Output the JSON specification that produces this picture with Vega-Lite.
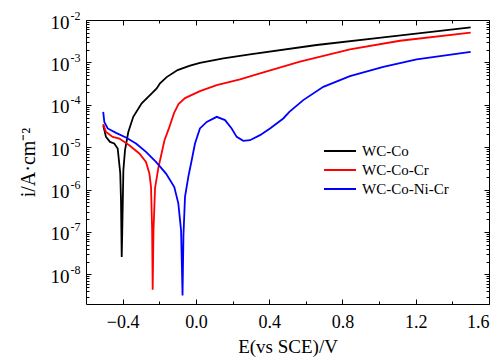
{
  "$schema": "https://vega.github.io/schema/vega-lite/v6.json",
  "width": 403,
  "height": 284,
  "autosize": {"type": "none"},
  "padding": {"left": 86, "top": 20, "right": 15, "bottom": 56},
  "background": "white",
  "config": {
    "view": {"stroke": "black", "strokeWidth": 1},
    "axis": {"grid": false, "domain": false, "labelFont": "Liberation Serif", "titleFont": "Liberation Serif", "labelColor": "black", "titleColor": "black", "tickColor": "black", "titleFontWeight": "normal", "tickWidth": 1},
    "legend": {"labelFont": "Liberation Serif", "labelColor": "black"}
  },
  "data": {"values": [
    {"s": "WC-Co", "E": -0.506, "i": 3.30e-5},
    {"s": "WC-Co", "E": -0.491, "i": 1.75e-5},
    {"s": "WC-Co", "E": -0.469, "i": 1.33e-5},
    {"s": "WC-Co", "E": -0.446, "i": 1.22e-5},
    {"s": "WC-Co", "E": -0.427, "i": 9.3e-6},
    {"s": "WC-Co", "E": -0.413, "i": 2.43e-6},
    {"s": "WC-Co", "E": -0.409, "i": 5.6e-7},
    {"s": "WC-Co", "E": -0.405, "i": 2.56e-8},
    {"s": "WC-Co", "E": -0.402, "i": 1.09e-7},
    {"s": "WC-Co", "E": -0.396, "i": 2.86e-6},
    {"s": "WC-Co", "E": -0.387, "i": 8.49e-6},
    {"s": "WC-Co", "E": -0.369, "i": 2.30e-5},
    {"s": "WC-Co", "E": -0.342, "i": 5.20e-5},
    {"s": "WC-Co", "E": -0.296, "i": 1.08e-4},
    {"s": "WC-Co", "E": -0.241, "i": 1.85e-4},
    {"s": "WC-Co", "E": -0.214, "i": 2.43e-4},
    {"s": "WC-Co", "E": -0.196, "i": 3.20e-4},
    {"s": "WC-Co", "E": -0.1595, "i": 4.50e-4},
    {"s": "WC-Co", "E": -0.1, "i": 6.6e-4},
    {"s": "WC-Co", "E": -0.032, "i": 8.4e-4},
    {"s": "WC-Co", "E": 0.022, "i": 9.8e-4},
    {"s": "WC-Co", "E": 0.150, "i": 1.24e-3},
    {"s": "WC-Co", "E": 0.295, "i": 1.55e-3},
    {"s": "WC-Co", "E": 0.659, "i": 2.57e-3},
    {"s": "WC-Co", "E": 1.023, "i": 3.90e-3},
    {"s": "WC-Co", "E": 1.5, "i": 6.73e-3},
    {"s": "WC-Co-Cr", "E": -0.506, "i": 3.49e-5},
    {"s": "WC-Co-Cr", "E": -0.491, "i": 2.30e-5},
    {"s": "WC-Co-Cr", "E": -0.454, "i": 1.75e-5},
    {"s": "WC-Co-Cr", "E": -0.418, "i": 1.60e-5},
    {"s": "WC-Co-Cr", "E": -0.364, "i": 1.11e-5},
    {"s": "WC-Co-Cr", "E": -0.309, "i": 7.10e-6},
    {"s": "WC-Co-Cr", "E": -0.2725, "i": 4.49e-6},
    {"s": "WC-Co-Cr", "E": -0.254, "i": 2.39e-6},
    {"s": "WC-Co-Cr", "E": -0.245, "i": 1.15e-6},
    {"s": "WC-Co-Cr", "E": -0.239, "i": 1.09e-7},
    {"s": "WC-Co-Cr", "E": -0.236, "i": 4.35e-9},
    {"s": "WC-Co-Cr", "E": -0.2315, "i": 1.09e-7},
    {"s": "WC-Co-Cr", "E": -0.223, "i": 1.1e-6},
    {"s": "WC-Co-Cr", "E": -0.204, "i": 3.42e-6},
    {"s": "WC-Co-Cr", "E": -0.1715, "i": 1.46e-5},
    {"s": "WC-Co-Cr", "E": -0.147, "i": 2.81e-5},
    {"s": "WC-Co-Cr", "E": -0.1196, "i": 6.35e-5},
    {"s": "WC-Co-Cr", "E": -0.095, "i": 1.04e-4},
    {"s": "WC-Co-Cr", "E": -0.0595, "i": 1.44e-4},
    {"s": "WC-Co-Cr", "E": 0.022, "i": 2.10e-4},
    {"s": "WC-Co-Cr", "E": 0.1135, "i": 2.91e-4},
    {"s": "WC-Co-Cr", "E": 0.241, "i": 3.97e-4},
    {"s": "WC-Co-Cr", "E": 0.350, "i": 5.51e-4},
    {"s": "WC-Co-Cr", "E": 0.568, "i": 1.04e-3},
    {"s": "WC-Co-Cr", "E": 0.841, "i": 2.03e-3},
    {"s": "WC-Co-Cr", "E": 1.114, "i": 3.24e-3},
    {"s": "WC-Co-Cr", "E": 1.5, "i": 5.01e-3},
    {"s": "WC-Co-Ni-Cr", "E": -0.506, "i": 6.82e-5},
    {"s": "WC-Co-Ni-Cr", "E": -0.500, "i": 3.95e-5},
    {"s": "WC-Co-Ni-Cr", "E": -0.4815, "i": 2.77e-5},
    {"s": "WC-Co-Ni-Cr", "E": -0.436, "i": 2.18e-5},
    {"s": "WC-Co-Ni-Cr", "E": -0.382, "i": 1.69e-5},
    {"s": "WC-Co-Ni-Cr", "E": -0.327, "i": 1.22e-5},
    {"s": "WC-Co-Ni-Cr", "E": -0.2725, "i": 7.74e-6},
    {"s": "WC-Co-Ni-Cr", "E": -0.218, "i": 4.49e-6},
    {"s": "WC-Co-Ni-Cr", "E": -0.163, "i": 2.39e-6},
    {"s": "WC-Co-Ni-Cr", "E": -0.118, "i": 1.15e-6},
    {"s": "WC-Co-Ni-Cr", "E": -0.096, "i": 4.75e-7},
    {"s": "WC-Co-Ni-Cr", "E": -0.081, "i": 1.09e-7},
    {"s": "WC-Co-Ni-Cr", "E": -0.073, "i": 3.18e-9},
    {"s": "WC-Co-Ni-Cr", "E": -0.068, "i": 8.34e-8},
    {"s": "WC-Co-Ni-Cr", "E": -0.0595, "i": 6.70e-7},
    {"s": "WC-Co-Ni-Cr", "E": -0.0415, "i": 1.99e-6},
    {"s": "WC-Co-Ni-Cr", "E": -0.023, "i": 4.93e-6},
    {"s": "WC-Co-Ni-Cr", "E": -0.005, "i": 1.22e-5},
    {"s": "WC-Co-Ni-Cr", "E": 0.022, "i": 2.77e-5},
    {"s": "WC-Co-Ni-Cr", "E": 0.059, "i": 3.95e-5},
    {"s": "WC-Co-Ni-Cr", "E": 0.1135, "i": 5.20e-5},
    {"s": "WC-Co-Ni-Cr", "E": 0.159, "i": 4.35e-5},
    {"s": "WC-Co-Ni-Cr", "E": 0.195, "i": 2.77e-5},
    {"s": "WC-Co-Ni-Cr", "E": 0.2227, "i": 1.75e-5},
    {"s": "WC-Co-Ni-Cr", "E": 0.2587, "i": 1.41e-5},
    {"s": "WC-Co-Ni-Cr", "E": 0.295, "i": 1.46e-5},
    {"s": "WC-Co-Ni-Cr", "E": 0.350, "i": 1.92e-5},
    {"s": "WC-Co-Ni-Cr", "E": 0.4045, "i": 2.77e-5},
    {"s": "WC-Co-Ni-Cr", "E": 0.477, "i": 4.76e-5},
    {"s": "WC-Co-Ni-Cr", "E": 0.51, "i": 6.82e-5},
    {"s": "WC-Co-Ni-Cr", "E": 0.586, "i": 1.29e-4},
    {"s": "WC-Co-Ni-Cr", "E": 0.6955, "i": 2.65e-4},
    {"s": "WC-Co-Ni-Cr", "E": 0.841, "i": 4.75e-4},
    {"s": "WC-Co-Ni-Cr", "E": 1.023, "i": 7.88e-4},
    {"s": "WC-Co-Ni-Cr", "E": 1.205, "i": 1.18e-3},
    {"s": "WC-Co-Ni-Cr", "E": 1.5, "i": 1.78e-3}
  ]},
  "layer": [
    {
      "mark": {"type": "line", "strokeWidth": 1.8},
      "encoding": {
        "x": {"field": "E", "type": "quantitative", "scale": {"domain": [-0.6, 1.6], "nice": false, "zero": false},
          "axis": {"orient": "bottom", "values": [-0.4, 0, 0.4, 0.8, 1.2, 1.6], "format": ".1f", "tickSize": -5, "labelFontSize": 18, "labelPadding": 14, "title": "E(vs SCE)/V", "titleFontSize": 19, "titlePadding": 6}},
        "y": {"field": "i", "type": "quantitative", "scale": {"type": "log", "domain": [2e-9, 0.01], "nice": false},
          "axis": {"orient": "left", "values": [1e-8, 1e-7, 1e-6, 1e-5, 1e-4, 1e-3, 1e-2], "labelExpr": "'10'", "tickSize": -5, "labelFontSize": 19, "labelPadding": 22, "labelBaseline": "middle", "labelOffset": 2, "labelFlush": false, "title": "i/A·cm⁻²", "titleFontSize": 20, "titlePadding": 12}},
        "color": {"field": "s", "type": "nominal",
          "scale": {"domain": ["WC-Co", "WC-Co-Cr", "WC-Co-Ni-Cr"], "range": ["#000000", "#ff0000", "#0000ff"]},
          "legend": {"orient": "none", "legendX": 243, "legendY": 120, "title": null, "symbolType": "M-1.6,0H1.6", "symbolSize": 400, "symbolStrokeWidth": 2, "labelFontSize": 15, "rowPadding": 0, "labelOffset": 11, "padding": 0}}
      }
    },
    {
      "mark": {"type": "point", "opacity": 0},
      "encoding": {
        "x": {"field": "E", "type": "quantitative", "scale": {"domain": [-0.6, 1.6], "nice": false, "zero": false},
          "axis": {"orient": "bottom", "values": [-0.2, 0.2, 0.6, 1.0, 1.4], "labels": false, "tickSize": -3, "title": null}},
        "y": {"field": "i", "type": "quantitative", "scale": {"type": "log", "domain": [2e-9, 0.01], "nice": false},
          "axis": {"orient": "left", "values": [1e-8, 1e-7, 1e-6, 1e-5, 1e-4, 1e-3, 1e-2], "ticks": false, "labelExpr": "'-' + round(-log(datum.value)/LN10)", "labelFontSize": 12, "labelAlign": "left", "labelBaseline": "middle", "labelPadding": 16, "labelOffset": -5, "labelFlush": false, "title": null}}
      }
    },
    {
      "mark": {"type": "point", "opacity": 0},
      "encoding": {
        "x": {"field": "E", "type": "quantitative", "scale": {"domain": [-0.6, 1.6], "nice": false, "zero": false},
          "axis": {"orient": "top", "values": [-0.4, 0, 0.4, 0.8, 1.2, 1.6], "labels": false, "tickSize": -5, "title": null}},
        "y": {"field": "i", "type": "quantitative", "scale": {"type": "log", "domain": [2e-9, 0.01], "nice": false},
          "axis": {"orient": "right", "values": [1e-8, 1e-7, 1e-6, 1e-5, 1e-4, 1e-3, 1e-2], "labels": false, "tickSize": -5, "title": null}}
      }
    },
    {
      "mark": {"type": "point", "opacity": 0},
      "encoding": {
        "x": {"field": "E", "type": "quantitative", "scale": {"domain": [-0.6, 1.6], "nice": false, "zero": false},
          "axis": {"orient": "top", "values": [-0.2, 0.2, 0.6, 1.0, 1.4], "labels": false, "tickSize": -3, "title": null}},
        "y": {"field": "i", "type": "quantitative", "scale": {"type": "log", "domain": [2e-9, 0.01], "nice": false},
          "axis": {"orient": "right", "values": [3e-9, 4e-9, 5e-9, 6e-9, 7e-9, 8e-9, 9e-9, 2e-8, 3e-8, 4e-8, 5e-8, 6e-8, 7e-8, 8e-8, 9e-8, 2e-7, 3e-7, 4e-7, 5e-7, 6e-7, 7e-7, 8e-7, 9e-7, 2e-6, 3e-6, 4e-6, 5e-6, 6e-6, 7e-6, 8e-6, 9e-6, 2e-5, 3e-5, 4e-5, 5e-5, 6e-5, 7e-5, 8e-5, 9e-5, 2e-4, 3e-4, 4e-4, 5e-4, 6e-4, 7e-4, 8e-4, 9e-4, 2e-3, 3e-3, 4e-3, 5e-3, 6e-3, 7e-3, 8e-3, 9e-3], "labels": false, "tickSize": -3, "title": null}}
      }
    },
    {
      "mark": {"type": "point", "opacity": 0},
      "encoding": {
        "x": {"field": "E", "type": "quantitative", "scale": {"domain": [-0.6, 1.6], "nice": false, "zero": false}, "axis": null},
        "y": {"field": "i", "type": "quantitative", "scale": {"type": "log", "domain": [2e-9, 0.01], "nice": false},
          "axis": {"orient": "left", "values": [3e-9, 4e-9, 5e-9, 6e-9, 7e-9, 8e-9, 9e-9, 2e-8, 3e-8, 4e-8, 5e-8, 6e-8, 7e-8, 8e-8, 9e-8, 2e-7, 3e-7, 4e-7, 5e-7, 6e-7, 7e-7, 8e-7, 9e-7, 2e-6, 3e-6, 4e-6, 5e-6, 6e-6, 7e-6, 8e-6, 9e-6, 2e-5, 3e-5, 4e-5, 5e-5, 6e-5, 7e-5, 8e-5, 9e-5, 2e-4, 3e-4, 4e-4, 5e-4, 6e-4, 7e-4, 8e-4, 9e-4, 2e-3, 3e-3, 4e-3, 5e-3, 6e-3, 7e-3, 8e-3, 9e-3], "labels": false, "tickSize": -3, "title": null}}
      }
    }
  ],
  "resolve": {"axis": {"x": "independent", "y": "independent"}}
}
